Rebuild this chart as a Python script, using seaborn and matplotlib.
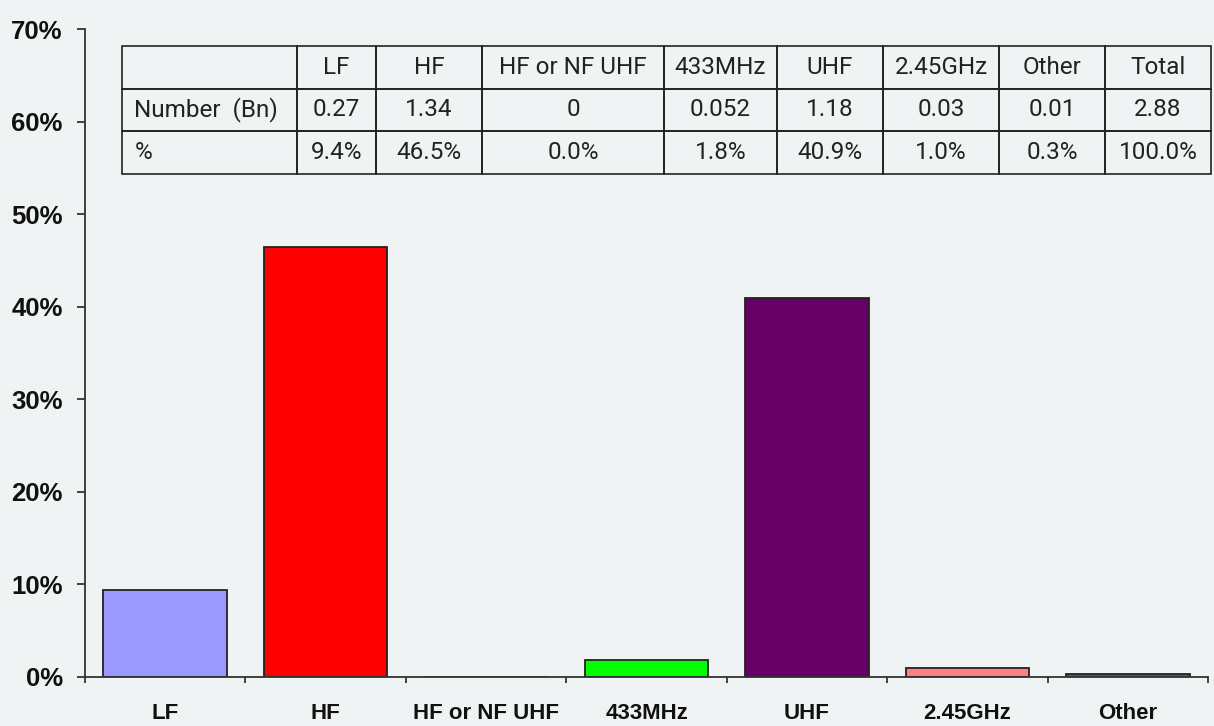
import matplotlib
matplotlib.use('Agg')
import matplotlib.pyplot as plt
import numpy as np
import pandas as pd
import seaborn as sns

sns.set_style('ticks')

# bar data (share of tags, %)
categories = ['LF', 'HF', 'HF or NF UHF', '433MHz', 'UHF', '2.45GHz', 'Other']
share_pct = [9.4, 46.5, 0.0, 1.8, 40.9, 1.0, 0.3]
bar_colors = ['#9999ff', '#ff0000', '#ffff99', '#00ff00', '#660066', '#ff8080', '#336699']

# table data
table_cols = ['', 'LF', 'HF', 'HF or NF UHF', '433MHz', 'UHF', '2.45GHz', 'Other', 'Total']
row_number = ['Number  (Bn)', '0.27', '1.34', '0', '0.052', '1.18', '0.03', '0.01', '2.88']
row_pct = ['%', '9.4%', '46.5%', '0.0%', '1.8%', '40.9%', '1.0%', '0.3%', '100.0%']

bg = '#f0f3f4'
W, H = 1214, 726
fig = plt.figure(figsize=(W / 100, H / 100), dpi=100, facecolor=bg)
ax = fig.add_axes([85 / W, (H - 677) / H, (1208 - 85) / W, (677 - 29) / H])
ax.set_facecolor(bg)

df = pd.DataFrame({'cat': categories, 'val': share_pct})
sns.barplot(data=df, x='cat', y='val', hue='cat', palette=bar_colors, legend=False,
            width=0.77, edgecolor='#222222', linewidth=1.3, saturation=1, ax=ax)

ax.set_ylim(0, 70)
ax.set_xlim(-0.5, len(categories) - 0.5)
ax.set_yticks(np.arange(0, 71, 10))
ax.set_yticklabels([f'{v}%' for v in range(0, 71, 10)], fontsize=18.5,
                   fontweight='bold', family='Liberation Sans', color='#111111')
ax.set_xticks(np.arange(-0.5, len(categories), 1))
ax.set_xticklabels([])
ax.set_xticks(np.arange(len(categories)), minor=True)
ax.set_xticklabels(categories, minor=True, fontsize=16, fontweight='bold',
                   family='Liberation Sans', color='#111111')
ax.tick_params(axis='x', which='major', length=4.5, width=1.3, color='#333333', direction='out')
ax.tick_params(axis='x', which='minor', length=0, pad=19)
ax.tick_params(axis='y', length=6, width=1.3, color='#333333', pad=10)
ax.set_xlabel('')
ax.set_ylabel('')
for s in ['top', 'right']:
    ax.spines[s].set_visible(False)
for s in ['left', 'bottom']:
    ax.spines[s].set_color('#333333')
    ax.spines[s].set_linewidth(1.3)

# data table at the top of the plot
col_px = [175, 79, 106, 182, 113, 106, 116, 106, 106]
tot = sum(col_px)
tbl = ax.table(cellText=[table_cols, row_number, row_pct],
               colWidths=[c / tot for c in col_px],
               bbox=[(122 - 85) / 1123, (677 - 174.3) / 648,
                     (1211 - 122) / 1123, (174.3 - 45.7) / 648],
               cellLoc='center')
tbl.auto_set_font_size(False)
tbl.set_fontsize(17.5)
for (r, c), cell in tbl.get_celld().items():
    cell.set_facecolor('none')
    cell.set_edgecolor('#222222')
    cell.set_linewidth(1.2)
    cell.get_text().set_family('Roboto')
    cell.get_text().set_color('#222222')
    if c == 0:
        cell.get_text().set_horizontalalignment('left')
        cell.PAD = 0.07

fig.savefig('out.png', dpi=100, facecolor=bg)
